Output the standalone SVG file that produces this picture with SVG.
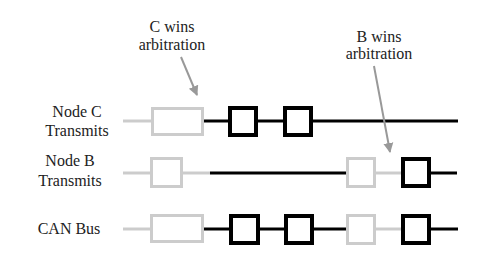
<svg xmlns="http://www.w3.org/2000/svg" width="480" height="279" viewBox="0 0 480 279">
<defs>
<style>
text{font-family:"Liberation Serif","DejaVu Serif",serif;font-size:16px;fill:#222;text-anchor:middle}
.lt{stroke:#cccccc;stroke-width:3;fill:#fff}
.ll{stroke:#cccccc;stroke-width:3;fill:none}
.bk{stroke:#000;stroke-width:4;fill:#fff}
.bl{stroke:#000;stroke-width:3;fill:none}
.arr{stroke:#999;stroke-width:2;fill:none}
</style>
<marker id="ah" viewBox="0 0 10 10" refX="9" refY="5" markerWidth="5" markerHeight="6" orient="auto" markerUnits="strokeWidth">
<path d="M0,0 L10,5 L0,10 z" fill="#999"/>
</marker>
</defs>
<rect width="480" height="279" fill="#fff"/>

<g id="labels" font-family="Liberation Serif, DejaVu Serif, serif">
<text x="172" y="32">C wins</text>
<text x="172" y="50">arbitration</text>
<text x="379" y="42">B wins</text>
<text x="379" y="59">arbitration</text>
<text x="77" y="117">Node C</text>
<text x="77" y="136">Transmits</text>
<text x="70" y="166">Node B</text>
<text x="70" y="186">Transmits</text>
<text x="69" y="234">CAN Bus</text>
</g>

<g id="nodeC">
<line class="ll" x1="123" y1="121" x2="152" y2="121"/>
<line class="bl" x1="203" y1="121" x2="230" y2="121"/>
<line class="bl" x1="256" y1="121" x2="285" y2="121"/>
<line class="bl" x1="311" y1="121" x2="458" y2="121"/>
<rect class="lt" x="152.5" y="108.5" width="50" height="26"/>
<rect class="bk" x="230" y="108" width="26" height="27"/>
<rect class="bk" x="285" y="108" width="26" height="27"/>
</g>

<g id="nodeB">
<line class="ll" x1="123" y1="173" x2="152" y2="173"/>
<line class="ll" x1="182" y1="173" x2="210" y2="173"/>
<line class="bl" x1="210" y1="173" x2="348" y2="173"/>
<line class="ll" x1="375" y1="173" x2="403" y2="173"/>
<line class="bl" x1="429" y1="173" x2="457" y2="173"/>
<rect class="lt" x="151.5" y="158.5" width="30" height="28"/>
<rect class="lt" x="347.5" y="158.5" width="27" height="28"/>
<rect class="bk" x="403" y="159" width="26" height="27"/>
</g>

<g id="canBus">
<line class="ll" x1="123" y1="229" x2="152" y2="229"/>
<line class="bl" x1="202" y1="229" x2="231" y2="229"/>
<line class="bl" x1="258" y1="229" x2="286" y2="229"/>
<line class="bl" x1="312" y1="229" x2="348" y2="229"/>
<line class="ll" x1="375" y1="229" x2="403" y2="229"/>
<line class="bl" x1="429" y1="229" x2="458" y2="229"/>
<rect class="lt" x="151.5" y="215.5" width="51" height="26"/>
<rect class="bk" x="231" y="216" width="27" height="27"/>
<rect class="bk" x="286" y="216" width="26" height="27"/>
<rect class="lt" x="347.5" y="215.5" width="27" height="28"/>
<rect class="bk" x="403" y="216" width="26" height="27"/>
</g>

<g id="connectors">
<line class="arr" x1="181" y1="57" x2="197" y2="95" marker-end="url(#ah)"/>
<line class="arr" x1="374" y1="66" x2="390" y2="152" marker-end="url(#ah)"/>
</g>
</svg>
